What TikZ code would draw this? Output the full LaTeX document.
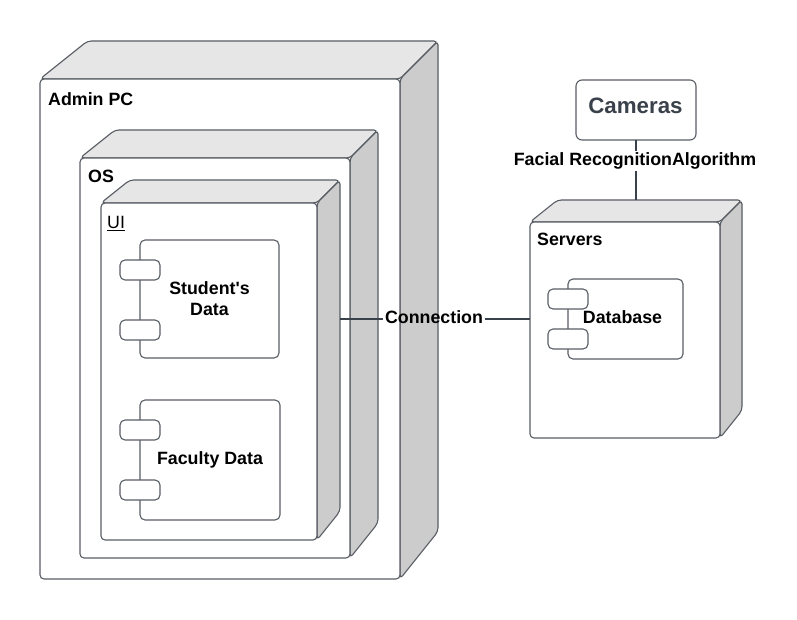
\documentclass[tikz,border=0pt]{standalone}
\usepackage{fontspec}
\setmainfont{Liberation Sans}[Ligatures=TeXOff]
\definecolor{edgecol}{RGB}{88,93,100}
\definecolor{topcol}{RGB}{230,230,230}
\definecolor{sidecol}{RGB}{204,204,204}
\definecolor{wirecol}{RGB}{58,65,74}
\newcommand\mylbl{\fontsize{17.8}{21}\selectfont\bfseries}
\tikzset{
  front/.style={draw=edgecol, fill=white, rounded corners=4pt, inner sep=0pt, outer sep=0pt, line width=1.1pt},
  topf/.style={draw=edgecol, fill=topcol, rounded corners=4pt, line width=1.1pt, line join=round},
  sidef/.style={draw=edgecol, fill=sidecol, rounded corners=4pt, line width=1.1pt, line join=round},
  comp/.style={draw=edgecol, fill=white, rounded corners=5pt, inner sep=0pt, outer sep=0pt, line width=1.1pt, anchor=north west, font=\mylbl, align=center},
  port/.style={draw=edgecol, fill=white, rounded corners=5pt, inner sep=0pt, outer sep=0pt, line width=1.1pt, anchor=north west, minimum width=40pt, minimum height=20pt},
  title/.style={anchor=base west, inner sep=0pt, font=\mylbl},
  wire/.style={draw=wirecol, line width=2pt},
  elabel/.style={anchor=base, inner sep=1.5pt, font=\mylbl},
}
% name, x1, y1, x2, y2, depth
\newcommand\cubebox[6]{%
  \draw[topf] (#2,#3) -- ++({1.25*#6},{-#6}) -- ({#4+#6},{#3-#6}) -- (#4,#3) -- cycle;
  \draw[sidef] (#4,#3) -- ({#4+#6},{#3-#6}) -- ({#4+#6},{#5-1.25*#6}) -- (#4,#5) -- cycle;
  \node[front, anchor=north west, minimum width={(#4-#2)*1pt}, minimum height={(#5-#3)*1pt}] (#1) at (#2,#3) {};
}
\begin{document}
\begin{tikzpicture}[x=1pt,y=-1pt]
\useasboundingbox (0,0) rectangle (797,620);
\fill[white] (0,0) rectangle (797,620);

% Admin PC
\cubebox{admin}{40}{79}{400}{579}{38}
\node[title] (admintitle) at (48,106) {Admin PC};

% OS
\cubebox{os}{80}{158}{350}{558}{28}
\node[title] (ostitle) at (88,183) {OS};

% UI
\cubebox{ui}{101}{203}{317}{540}{23}
\node[title, font=\fontsize{17.8}{21}\selectfont] (uititle) at (107,229) {\underline{UI}};

% Student's Data component
\node[comp, minimum width=139pt, minimum height=118pt] (student) at (140,240) {Student's\\Data};
\node[port] (sp1) at (120,260) {};
\node[port] (sp2) at (120,320) {};

% Faculty Data component
\node[comp, minimum width=140pt, minimum height=120pt] (faculty) at (140,400) {Faculty Data};
\node[port] (fp1) at (120,420) {};
\node[port] (fp2) at (120,480) {};

% Servers
\cubebox{srv}{530}{222}{720}{438}{22}
\node[title] (srvtitle) at (537,245) {Servers};

% Database component
\node[comp, minimum width=115pt, minimum height=80pt] (db) at (568,279) {};
\node[port] (dp1) at (548,289) {};
\node[port] (dp2) at (548,329) {};
\node[font=\mylbl, inner sep=0pt] (dbtext) at (622.5,317) {Database};

% Cameras
\node[draw=edgecol, fill=white, rounded corners=6pt, line width=1.1pt, minimum width=120pt, minimum height=60pt, inner sep=0pt, outer sep=0pt] (cam) at (636,110) {};
\node[font=\fontsize{22.3}{26}\selectfont\bfseries, text=wirecol, inner sep=0pt] (camtext) at (635.5,105.5) {Cameras};

% Connectors
\coordinate (connstart) at (340,319);
\node[elabel] (conn) at (434,323) {Connection};
\draw[wire] (connstart) -- (connstart -| conn.west);
\draw[wire] (connstart -| conn.east) -- (connstart -| srv.west);

\coordinate (srvtop) at (636,200);
\node[elabel] (facial) at (635,166) {Facial RecognitionAlgorithm};
\draw[wire] (cam.south) -- (cam.south |- facial.north);
\draw[wire] (cam.south |- facial.south) -- (srvtop);
\end{tikzpicture}
\end{document}
